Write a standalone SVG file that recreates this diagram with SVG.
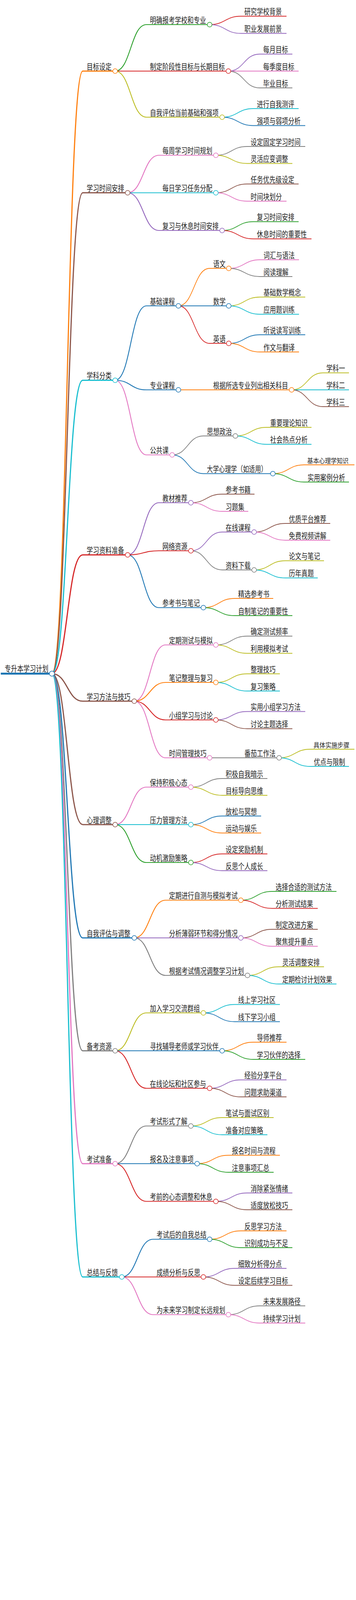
<svg xmlns="http://www.w3.org/2000/svg" width="912" height="4146" viewBox="0 0 912 4146">
<style>
.n path{fill:none}
.n circle{fill:#fff;stroke-width:1.5}
text{fill:#222;stroke:none;font-family:"Noto Sans CJK SC","Noto Sans",sans-serif;font-size:21px;}
text.edge{font-size:17px}
#connectors path{fill:none}
.d1{stroke-width:3}.d2{stroke-width:2.2}.d3{stroke-width:1.8}
</style>
<rect width="912" height="4146" fill="#fff"/>
<g id="connectors">
<g class="d1">
<path stroke="#ff7f0e" d="M133 1724.5 C172.5 1724.5 172.5 182 212 182"/>
<path stroke="#8c564b" d="M133 1724.5 C172.5 1724.5 172.5 493.5 212 493.5"/>
<path stroke="#17becf" d="M133 1724.5 C172.5 1724.5 172.5 973.5 212 973.5"/>
<path stroke="#d62728" d="M133 1724.5 C172.5 1724.5 172.5 1420.5 212 1420.5"/>
<path stroke="#8c564b" d="M133 1724.5 C172.5 1724.5 172.5 1795 212 1795"/>
<path stroke="#8c564b" d="M133 1724.5 C172.5 1724.5 172.5 2111 212 2111"/>
<path stroke="#1f77b4" d="M133 1724.5 C172.5 1724.5 172.5 2401 212 2401"/>
<path stroke="#7f7f7f" d="M133 1724.5 C172.5 1724.5 172.5 2690 212 2690"/>
<path stroke="#e377c2" d="M133 1724.5 C172.5 1724.5 172.5 2979 212 2979"/>
<path stroke="#17becf" d="M133 1724.5 C172.5 1724.5 172.5 3269 212 3269"/>
</g>
<g class="d2">
<path stroke="#2ca02c" d="M295 182 C335 182 335 63 375 63"/>
<path stroke="#d62728" d="M295 182 C335 182 335 182 375 182"/>
<path stroke="#bcbd22" d="M295 182 C335 182 335 300 375 300"/>
<path stroke="#e377c2" d="M327 493.5 C367 493.5 367 397.5 407 397.5"/>
<path stroke="#17becf" d="M327 493.5 C367 493.5 367 493.5 407 493.5"/>
<path stroke="#9467bd" d="M327 493.5 C367 493.5 367 590 407 590"/>
<path stroke="#1f77b4" d="M295 973.5 C335 973.5 335 783 375 783"/>
<path stroke="#1f77b4" d="M295 973.5 C335 973.5 335 998 375 998"/>
<path stroke="#e377c2" d="M295 973.5 C335 973.5 335 1164.5 375 1164.5"/>
<path stroke="#9467bd" d="M327 1420.5 C367 1420.5 367 1287 407 1287"/>
<path stroke="#d62728" d="M327 1420.5 C367 1420.5 367 1410 407 1410"/>
<path stroke="#1f77b4" d="M327 1420.5 C367 1420.5 367 1555.5 407 1555.5"/>
<path stroke="#e377c2" d="M344 1795 C384 1795 384 1651 424 1651"/>
<path stroke="#ff7f0e" d="M344 1795 C384 1795 384 1747 424 1747"/>
<path stroke="#d62728" d="M344 1795 C384 1795 384 1843 424 1843"/>
<path stroke="#e377c2" d="M344 1795 C384 1795 384 1940 424 1940"/>
<path stroke="#e377c2" d="M295 2111 C335 2111 335 2015 375 2015"/>
<path stroke="#17becf" d="M295 2111 C335 2111 335 2111 375 2111"/>
<path stroke="#2ca02c" d="M295 2111 C335 2111 335 2208 375 2208"/>
<path stroke="#ff7f0e" d="M344 2401 C384 2401 384 2304.5 424 2304.5"/>
<path stroke="#9467bd" d="M344 2401 C384 2401 384 2401 424 2401"/>
<path stroke="#7f7f7f" d="M344 2401 C384 2401 384 2497 424 2497"/>
<path stroke="#bcbd22" d="M295 2690 C335 2690 335 2593 375 2593"/>
<path stroke="#1f77b4" d="M295 2690 C335 2690 335 2690 375 2690"/>
<path stroke="#d62728" d="M295 2690 C335 2690 335 2786 375 2786"/>
<path stroke="#7f7f7f" d="M295 2979 C335 2979 335 2882.5 375 2882.5"/>
<path stroke="#1f77b4" d="M295 2979 C335 2979 335 2979 375 2979"/>
<path stroke="#d62728" d="M295 2979 C335 2979 335 3075.5 375 3075.5"/>
<path stroke="#1f77b4" d="M312 3269 C352 3269 352 3172.5 392 3172.5"/>
<path stroke="#d62728" d="M312 3269 C352 3269 352 3269 392 3269"/>
<path stroke="#e377c2" d="M312 3269 C352 3269 352 3365.5 392 3365.5"/>
</g>
<g class="d3">
<path stroke="#d62728" d="M537 63 C577 63 577 41.5 617 41.5"/>
<path stroke="#9467bd" d="M537 63 C577 63 577 85.5 617 85.5"/>
<path stroke="#9467bd" d="M585 182 C625 182 625 138.5 665 138.5"/>
<path stroke="#e377c2" d="M585 182 C625 182 625 182 665 182"/>
<path stroke="#7f7f7f" d="M585 182 C625 182 625 225 665 225"/>
<path stroke="#17becf" d="M569 300 C609 300 609 278 649 278"/>
<path stroke="#1f77b4" d="M569 300 C609 300 609 321.5 649 321.5"/>
<path stroke="#7f7f7f" d="M553 397.5 C593 397.5 593 375 633 375"/>
<path stroke="#bcbd22" d="M553 397.5 C593 397.5 593 418.5 633 418.5"/>
<path stroke="#8c564b" d="M553 493.5 C593 493.5 593 471 633 471"/>
<path stroke="#e377c2" d="M553 493.5 C593 493.5 593 515 633 515"/>
<path stroke="#2ca02c" d="M569 590 C609 590 609 567.5 649 567.5"/>
<path stroke="#d62728" d="M569 590 C609 590 609 611.5 649 611.5"/>
<path stroke="#ff7f0e" d="M457 783 C497 783 497 687 537 687"/>
<path stroke="#1f77b4" d="M457 783 C497 783 497 783 537 783"/>
<path stroke="#d62728" d="M457 783 C497 783 497 879 537 879"/>
<path stroke="#e377c2" d="M586 687 C626 687 626 665 666 665"/>
<path stroke="#7f7f7f" d="M586 687 C626 687 626 708 666 708"/>
<path stroke="#bcbd22" d="M586 783 C626 783 626 760.5 666 760.5"/>
<path stroke="#17becf" d="M586 783 C626 783 626 804.5 666 804.5"/>
<path stroke="#1f77b4" d="M586 879 C626 879 626 857 666 857"/>
<path stroke="#ff7f0e" d="M586 879 C626 879 626 901 666 901"/>
<path stroke="#ff7f0e" d="M457 998 C497 998 497 998 537 998"/>
<path stroke="#bcbd22" d="M747 998 C787 998 787 954.5 827 954.5"/>
<path stroke="#17becf" d="M747 998 C787 998 787 998 827 998"/>
<path stroke="#8c564b" d="M747 998 C787 998 787 1041 827 1041"/>
<path stroke="#7f7f7f" d="M441 1164.5 C481 1164.5 481 1116 521 1116"/>
<path stroke="#1f77b4" d="M441 1164.5 C481 1164.5 481 1212.5 521 1212.5"/>
<path stroke="#bcbd22" d="M603 1116 C643 1116 643 1094 683 1094"/>
<path stroke="#17becf" d="M603 1116 C643 1116 643 1137.5 683 1137.5"/>
<path stroke="#ff7f0e" d="M699 1212.5 C739 1212.5 739 1190 779 1190"/>
<path stroke="#2ca02c" d="M699 1212.5 C739 1212.5 739 1234 779 1234"/>
<path stroke="#8c564b" d="M489 1287 C529 1287 529 1265 569 1265"/>
<path stroke="#e377c2" d="M489 1287 C529 1287 529 1309 569 1309"/>
<path stroke="#9467bd" d="M489 1410 C529 1410 529 1362 569 1362"/>
<path stroke="#7f7f7f" d="M489 1410 C529 1410 529 1459 569 1459"/>
<path stroke="#8c564b" d="M651 1362 C691 1362 691 1340 731 1340"/>
<path stroke="#e377c2" d="M651 1362 C691 1362 691 1383 731 1383"/>
<path stroke="#bcbd22" d="M651 1459 C691 1459 691 1435.5 731 1435.5"/>
<path stroke="#17becf" d="M651 1459 C691 1459 691 1479.5 731 1479.5"/>
<path stroke="#ff7f0e" d="M521 1555.5 C561 1555.5 561 1532 601 1532"/>
<path stroke="#2ca02c" d="M521 1555.5 C561 1555.5 561 1576 601 1576"/>
<path stroke="#7f7f7f" d="M553 1651 C593 1651 593 1628.5 633 1628.5"/>
<path stroke="#bcbd22" d="M553 1651 C593 1651 593 1672.5 633 1672.5"/>
<path stroke="#bcbd22" d="M553 1747 C593 1747 593 1725 633 1725"/>
<path stroke="#17becf" d="M553 1747 C593 1747 593 1769 633 1769"/>
<path stroke="#9467bd" d="M553 1843 C593 1843 593 1821.5 633 1821.5"/>
<path stroke="#8c564b" d="M553 1843 C593 1843 593 1865.5 633 1865.5"/>
<path stroke="#7f7f7f" d="M537 1940 C577 1940 577 1940 617 1940"/>
<path stroke="#bcbd22" d="M715 1940 C755 1940 755 1918 795 1918"/>
<path stroke="#17becf" d="M715 1940 C755 1940 755 1962 795 1962"/>
<path stroke="#7f7f7f" d="M489 2015 C529 2015 529 1993 569 1993"/>
<path stroke="#bcbd22" d="M489 2015 C529 2015 529 2036 569 2036"/>
<path stroke="#1f77b4" d="M489 2111 C529 2111 529 2089 569 2089"/>
<path stroke="#ff7f0e" d="M489 2111 C529 2111 529 2132.5 569 2132.5"/>
<path stroke="#d62728" d="M489 2208 C529 2208 529 2186 569 2186"/>
<path stroke="#9467bd" d="M489 2208 C529 2208 529 2229 569 2229"/>
<path stroke="#2ca02c" d="M617 2304.5 C657 2304.5 657 2282 697 2282"/>
<path stroke="#d62728" d="M617 2304.5 C657 2304.5 657 2325.5 697 2325.5"/>
<path stroke="#8c564b" d="M617 2401 C657 2401 657 2379 697 2379"/>
<path stroke="#e377c2" d="M617 2401 C657 2401 657 2422.5 697 2422.5"/>
<path stroke="#bcbd22" d="M634 2497 C674 2497 674 2475 714 2475"/>
<path stroke="#17becf" d="M634 2497 C674 2497 674 2519 714 2519"/>
<path stroke="#17becf" d="M521 2593 C561 2593 561 2571.5 601 2571.5"/>
<path stroke="#1f77b4" d="M521 2593 C561 2593 561 2615.5 601 2615.5"/>
<path stroke="#ff7f0e" d="M569 2690 C609 2690 609 2668 649 2668"/>
<path stroke="#2ca02c" d="M569 2690 C609 2690 609 2712 649 2712"/>
<path stroke="#9467bd" d="M537 2786 C577 2786 577 2764.5 617 2764.5"/>
<path stroke="#8c564b" d="M537 2786 C577 2786 577 2808 617 2808"/>
<path stroke="#bcbd22" d="M489 2882.5 C529 2882.5 529 2861 569 2861"/>
<path stroke="#17becf" d="M489 2882.5 C529 2882.5 529 2905 569 2905"/>
<path stroke="#ff7f0e" d="M505 2979 C545 2979 545 2957.5 585 2957.5"/>
<path stroke="#2ca02c" d="M505 2979 C545 2979 545 3001 585 3001"/>
<path stroke="#9467bd" d="M553 3075.5 C593 3075.5 593 3054 633 3054"/>
<path stroke="#8c564b" d="M553 3075.5 C593 3075.5 593 3097 633 3097"/>
<path stroke="#ff7f0e" d="M537 3172.5 C577 3172.5 577 3151 617 3151"/>
<path stroke="#2ca02c" d="M537 3172.5 C577 3172.5 577 3194 617 3194"/>
<path stroke="#9467bd" d="M521 3269 C561 3269 561 3247 601 3247"/>
<path stroke="#8c564b" d="M521 3269 C561 3269 561 3290.5 601 3290.5"/>
<path stroke="#7f7f7f" d="M585 3365.5 C625 3365.5 625 3343 665 3343"/>
<path stroke="#e377c2" d="M585 3365.5 C625 3365.5 625 3387 665 3387"/>
</g>
</g>

<g id="root" class="n" stroke="#1f77b4" stroke-width="5"><path d="M2 1724.5 H133"/><circle cx="133" cy="1724.5" r="6.5"/><text x="12" y="1719" textLength="112" lengthAdjust="spacingAndGlyphs">专升本学习计划</text></g>

<g id="n1" class="n" stroke="#ff7f0e" stroke-width="3"><path d="M212 182 H295"/><circle cx="295" cy="182" r="6"/><text x="222" y="177.5" textLength="64" lengthAdjust="spacingAndGlyphs">目标设定</text></g>
<g id="n1-1" class="n" stroke="#2ca02c" stroke-width="2.2"><path d="M375 63 H537"/><circle cx="537" cy="63" r="6"/><text x="384" y="58.5" textLength="144" lengthAdjust="spacingAndGlyphs">明确报考学校和专业</text></g>
<g id="n1-1-1" class="n" stroke="#d62728" stroke-width="1.8"><path d="M617 41.5 H734"/><text x="626" y="37" textLength="96" lengthAdjust="spacingAndGlyphs">研究学校背景</text></g>
<g id="n1-1-2" class="n" stroke="#9467bd" stroke-width="1.8"><path d="M617 85.5 H734"/><text x="626" y="81" textLength="96" lengthAdjust="spacingAndGlyphs">职业发展前景</text></g>
<g id="n1-2" class="n" stroke="#d62728" stroke-width="2.2"><path d="M375 182 H585"/><circle cx="585" cy="182" r="6"/><text x="384" y="177.5" textLength="192" lengthAdjust="spacingAndGlyphs">制定阶段性目标与长期目标</text></g>
<g id="n1-2-1" class="n" stroke="#9467bd" stroke-width="1.8"><path d="M665 138.5 H749"/><text x="674" y="134" textLength="64" lengthAdjust="spacingAndGlyphs">每月目标</text></g>
<g id="n1-2-2" class="n" stroke="#e377c2" stroke-width="1.8"><path d="M665 182 H765"/><text x="674" y="177.5" textLength="80" lengthAdjust="spacingAndGlyphs">每季度目标</text></g>
<g id="n1-2-3" class="n" stroke="#7f7f7f" stroke-width="1.8"><path d="M665 225 H749"/><text x="674" y="220.5" textLength="64" lengthAdjust="spacingAndGlyphs">毕业目标</text></g>
<g id="n1-3" class="n" stroke="#bcbd22" stroke-width="2.2"><path d="M375 300 H569"/><circle cx="569" cy="300" r="6"/><text x="384" y="295.5" textLength="176" lengthAdjust="spacingAndGlyphs">自我评估当前基础和强项</text></g>
<g id="n1-3-1" class="n" stroke="#17becf" stroke-width="1.8"><path d="M649 278 H765"/><text x="658" y="273.5" textLength="96" lengthAdjust="spacingAndGlyphs">进行自我测评</text></g>
<g id="n1-3-2" class="n" stroke="#1f77b4" stroke-width="1.8"><path d="M649 321.5 H782"/><text x="658" y="317" textLength="112" lengthAdjust="spacingAndGlyphs">强项与弱项分析</text></g>

<g id="n2" class="n" stroke="#8c564b" stroke-width="3"><path d="M212 493.5 H327"/><circle cx="327" cy="493.5" r="6"/><text x="222" y="489" textLength="96" lengthAdjust="spacingAndGlyphs">学习时间安排</text></g>
<g id="n2-1" class="n" stroke="#e377c2" stroke-width="2.2"><path d="M407 397.5 H553"/><circle cx="553" cy="397.5" r="6"/><text x="416" y="393" textLength="128" lengthAdjust="spacingAndGlyphs">每周学习时间规划</text></g>
<g id="n2-1-1" class="n" stroke="#7f7f7f" stroke-width="1.8"><path d="M633 375 H782"/><text x="642" y="370.5" textLength="128" lengthAdjust="spacingAndGlyphs">设定固定学习时间</text></g>
<g id="n2-1-2" class="n" stroke="#bcbd22" stroke-width="1.8"><path d="M633 418.5 H749"/><text x="642" y="414" textLength="96" lengthAdjust="spacingAndGlyphs">灵活应变调整</text></g>
<g id="n2-2" class="n" stroke="#17becf" stroke-width="2.2"><path d="M407 493.5 H553"/><circle cx="553" cy="493.5" r="6"/><text x="416" y="489" textLength="128" lengthAdjust="spacingAndGlyphs">每日学习任务分配</text></g>
<g id="n2-2-1" class="n" stroke="#8c564b" stroke-width="1.8"><path d="M633 471 H765"/><text x="642" y="466.5" textLength="112" lengthAdjust="spacingAndGlyphs">任务优先级设定</text></g>
<g id="n2-2-2" class="n" stroke="#e377c2" stroke-width="1.8"><path d="M633 515 H734"/><text x="642" y="510.5" textLength="80" lengthAdjust="spacingAndGlyphs">时间块划分</text></g>
<g id="n2-3" class="n" stroke="#9467bd" stroke-width="2.2"><path d="M407 590 H569"/><circle cx="569" cy="590" r="6"/><text x="416" y="585.5" textLength="144" lengthAdjust="spacingAndGlyphs">复习与休息时间安排</text></g>
<g id="n2-3-1" class="n" stroke="#2ca02c" stroke-width="1.8"><path d="M649 567.5 H765"/><text x="658" y="563" textLength="96" lengthAdjust="spacingAndGlyphs">复习时间安排</text></g>
<g id="n2-3-2" class="n" stroke="#d62728" stroke-width="1.8"><path d="M649 611.5 H798"/><text x="658" y="607" textLength="128" lengthAdjust="spacingAndGlyphs">休息时间的重要性</text></g>

<g id="n3" class="n" stroke="#17becf" stroke-width="3"><path d="M212 973.5 H295"/><circle cx="295" cy="973.5" r="6"/><text x="222" y="969" textLength="64" lengthAdjust="spacingAndGlyphs">学科分类</text></g>
<g id="n3-1" class="n" stroke="#1f77b4" stroke-width="2.2"><path d="M375 783 H457"/><circle cx="457" cy="783" r="6"/><text x="384" y="778.5" textLength="64" lengthAdjust="spacingAndGlyphs">基础课程</text></g>
<g id="n3-1-1" class="n" stroke="#ff7f0e" stroke-width="1.8"><path d="M537 687 H586"/><circle cx="586" cy="687" r="6"/><text x="546" y="682.5" textLength="32" lengthAdjust="spacingAndGlyphs">语文</text></g>
<g id="n3-1-1-1" class="n" stroke="#e377c2" stroke-width="1.8"><path d="M666 665 H766"/><text x="675" y="660.5" textLength="80" lengthAdjust="spacingAndGlyphs">词汇与语法</text></g>
<g id="n3-1-1-2" class="n" stroke="#7f7f7f" stroke-width="1.8"><path d="M666 708 H749"/><text x="675" y="703.5" textLength="64" lengthAdjust="spacingAndGlyphs">阅读理解</text></g>
<g id="n3-1-2" class="n" stroke="#1f77b4" stroke-width="1.8"><path d="M537 783 H586"/><circle cx="586" cy="783" r="6"/><text x="546" y="778.5" textLength="32" lengthAdjust="spacingAndGlyphs">数学</text></g>
<g id="n3-1-2-1" class="n" stroke="#bcbd22" stroke-width="1.8"><path d="M666 760.5 H782"/><text x="675" y="756" textLength="96" lengthAdjust="spacingAndGlyphs">基础数学概念</text></g>
<g id="n3-1-2-2" class="n" stroke="#17becf" stroke-width="1.8"><path d="M666 804.5 H766"/><text x="675" y="800" textLength="80" lengthAdjust="spacingAndGlyphs">应用题训练</text></g>
<g id="n3-1-3" class="n" stroke="#d62728" stroke-width="1.8"><path d="M537 879 H586"/><circle cx="586" cy="879" r="6"/><text x="546" y="874.5" textLength="32" lengthAdjust="spacingAndGlyphs">英语</text></g>
<g id="n3-1-3-1" class="n" stroke="#1f77b4" stroke-width="1.8"><path d="M666 857 H782"/><text x="675" y="852.5" textLength="96" lengthAdjust="spacingAndGlyphs">听说读写训练</text></g>
<g id="n3-1-3-2" class="n" stroke="#ff7f0e" stroke-width="1.8"><path d="M666 901 H766"/><text x="675" y="896.5" textLength="80" lengthAdjust="spacingAndGlyphs">作文与翻译</text></g>
<g id="n3-2" class="n" stroke="#1f77b4" stroke-width="2.2"><path d="M375 998 H457"/><circle cx="457" cy="998" r="6"/><text x="384" y="993.5" textLength="64" lengthAdjust="spacingAndGlyphs">专业课程</text></g>
<g id="n3-2-1" class="n" stroke="#ff7f0e" stroke-width="1.8"><path d="M537 998 H747"/><circle cx="747" cy="998" r="6"/><text x="546" y="993.5" textLength="192" lengthAdjust="spacingAndGlyphs">根据所选专业列出相关科目</text></g>
<g id="n3-2-1-1" class="n" stroke="#bcbd22" stroke-width="1.8"><path d="M827 954.5 H894"/><text x="836" y="950" textLength="48" lengthAdjust="spacingAndGlyphs">学科一</text></g>
<g id="n3-2-1-2" class="n" stroke="#17becf" stroke-width="1.8"><path d="M827 998 H894"/><text x="836" y="993.5" textLength="48" lengthAdjust="spacingAndGlyphs">学科二</text></g>
<g id="n3-2-1-3" class="n" stroke="#8c564b" stroke-width="1.8"><path d="M827 1041 H894"/><text x="836" y="1036.5" textLength="48" lengthAdjust="spacingAndGlyphs">学科三</text></g>
<g id="n3-3" class="n" stroke="#e377c2" stroke-width="2.2"><path d="M375 1164.5 H441"/><circle cx="441" cy="1164.5" r="6"/><text x="384" y="1160" textLength="48" lengthAdjust="spacingAndGlyphs">公共课</text></g>
<g id="n3-3-1" class="n" stroke="#7f7f7f" stroke-width="1.8"><path d="M521 1116 H603"/><circle cx="603" cy="1116" r="6"/><text x="530" y="1111.5" textLength="64" lengthAdjust="spacingAndGlyphs">思想政治</text></g>
<g id="n3-3-1-1" class="n" stroke="#bcbd22" stroke-width="1.8"><path d="M683 1094 H798"/><text x="692" y="1089.5" textLength="96" lengthAdjust="spacingAndGlyphs">重要理论知识</text></g>
<g id="n3-3-1-2" class="n" stroke="#17becf" stroke-width="1.8"><path d="M683 1137.5 H798"/><text x="692" y="1133" textLength="96" lengthAdjust="spacingAndGlyphs">社会热点分析</text></g>
<g id="n3-3-2" class="n" stroke="#1f77b4" stroke-width="1.8"><path d="M521 1212.5 H699"/><circle cx="699" cy="1212.5" r="6"/><text x="530" y="1208" textLength="154" lengthAdjust="spacingAndGlyphs">大学心理学（如适用）</text></g>
<g id="n3-3-2-1" class="n" stroke="#ff7f0e" stroke-width="1.8"><path d="M779 1190 H908"/><text class="edge" x="787" y="1185.5" textLength="106" lengthAdjust="spacingAndGlyphs">基本心理学知识</text></g>
<g id="n3-3-2-2" class="n" stroke="#2ca02c" stroke-width="1.8"><path d="M779 1234 H894"/><text x="788" y="1229.5" textLength="96" lengthAdjust="spacingAndGlyphs">实用案例分析</text></g>

<g id="n4" class="n" stroke="#d62728" stroke-width="3"><path d="M212 1420.5 H327"/><circle cx="327" cy="1420.5" r="6"/><text x="222" y="1416" textLength="96" lengthAdjust="spacingAndGlyphs">学习资料准备</text></g>
<g id="n4-1" class="n" stroke="#9467bd" stroke-width="2.2"><path d="M407 1287 H489"/><circle cx="489" cy="1287" r="6"/><text x="416" y="1282.5" textLength="64" lengthAdjust="spacingAndGlyphs">教材推荐</text></g>
<g id="n4-1-1" class="n" stroke="#8c564b" stroke-width="1.8"><path d="M569 1265 H652"/><text x="578" y="1260.5" textLength="64" lengthAdjust="spacingAndGlyphs">参考书籍</text></g>
<g id="n4-1-2" class="n" stroke="#e377c2" stroke-width="1.8"><path d="M569 1309 H636"/><text x="578" y="1304.5" textLength="48" lengthAdjust="spacingAndGlyphs">习题集</text></g>
<g id="n4-2" class="n" stroke="#d62728" stroke-width="2.2"><path d="M407 1410 H489"/><circle cx="489" cy="1410" r="6"/><text x="416" y="1405.5" textLength="64" lengthAdjust="spacingAndGlyphs">网络资源</text></g>
<g id="n4-2-1" class="n" stroke="#9467bd" stroke-width="1.8"><path d="M569 1362 H651"/><circle cx="651" cy="1362" r="6"/><text x="578" y="1357.5" textLength="64" lengthAdjust="spacingAndGlyphs">在线课程</text></g>
<g id="n4-2-1-1" class="n" stroke="#8c564b" stroke-width="1.8"><path d="M731 1340 H846"/><text x="740" y="1335.5" textLength="96" lengthAdjust="spacingAndGlyphs">优质平台推荐</text></g>
<g id="n4-2-1-2" class="n" stroke="#e377c2" stroke-width="1.8"><path d="M731 1383 H846"/><text x="740" y="1378.5" textLength="96" lengthAdjust="spacingAndGlyphs">免费视频讲解</text></g>
<g id="n4-2-2" class="n" stroke="#7f7f7f" stroke-width="1.8"><path d="M569 1459 H651"/><circle cx="651" cy="1459" r="6"/><text x="578" y="1454.5" textLength="64" lengthAdjust="spacingAndGlyphs">资料下载</text></g>
<g id="n4-2-2-1" class="n" stroke="#bcbd22" stroke-width="1.8"><path d="M731 1435.5 H830"/><text x="740" y="1431" textLength="80" lengthAdjust="spacingAndGlyphs">论文与笔记</text></g>
<g id="n4-2-2-2" class="n" stroke="#17becf" stroke-width="1.8"><path d="M731 1479.5 H814"/><text x="740" y="1475" textLength="64" lengthAdjust="spacingAndGlyphs">历年真题</text></g>
<g id="n4-3" class="n" stroke="#1f77b4" stroke-width="2.2"><path d="M407 1555.5 H521"/><circle cx="521" cy="1555.5" r="6"/><text x="416" y="1551" textLength="96" lengthAdjust="spacingAndGlyphs">参考书与笔记</text></g>
<g id="n4-3-1" class="n" stroke="#ff7f0e" stroke-width="1.8"><path d="M601 1532 H700"/><text x="610" y="1527.5" textLength="80" lengthAdjust="spacingAndGlyphs">精选参考书</text></g>
<g id="n4-3-2" class="n" stroke="#2ca02c" stroke-width="1.8"><path d="M601 1576 H749"/><text x="610" y="1571.5" textLength="128" lengthAdjust="spacingAndGlyphs">自制笔记的重要性</text></g>

<g id="n5" class="n" stroke="#8c564b" stroke-width="3"><path d="M212 1795 H344"/><circle cx="344" cy="1795" r="6"/><text x="222" y="1790.5" textLength="112" lengthAdjust="spacingAndGlyphs">学习方法与技巧</text></g>
<g id="n5-1" class="n" stroke="#e377c2" stroke-width="2.2"><path d="M424 1651 H553"/><circle cx="553" cy="1651" r="6"/><text x="433" y="1646.5" textLength="112" lengthAdjust="spacingAndGlyphs">定期测试与模拟</text></g>
<g id="n5-1-1" class="n" stroke="#7f7f7f" stroke-width="1.8"><path d="M633 1628.5 H749"/><text x="642" y="1624" textLength="96" lengthAdjust="spacingAndGlyphs">确定测试频率</text></g>
<g id="n5-1-2" class="n" stroke="#bcbd22" stroke-width="1.8"><path d="M633 1672.5 H749"/><text x="642" y="1668" textLength="96" lengthAdjust="spacingAndGlyphs">利用模拟考试</text></g>
<g id="n5-2" class="n" stroke="#ff7f0e" stroke-width="2.2"><path d="M424 1747 H553"/><circle cx="553" cy="1747" r="6"/><text x="433" y="1742.5" textLength="112" lengthAdjust="spacingAndGlyphs">笔记整理与复习</text></g>
<g id="n5-2-1" class="n" stroke="#bcbd22" stroke-width="1.8"><path d="M633 1725 H717"/><text x="642" y="1720.5" textLength="64" lengthAdjust="spacingAndGlyphs">整理技巧</text></g>
<g id="n5-2-2" class="n" stroke="#17becf" stroke-width="1.8"><path d="M633 1769 H717"/><text x="642" y="1764.5" textLength="64" lengthAdjust="spacingAndGlyphs">复习策略</text></g>
<g id="n5-3" class="n" stroke="#d62728" stroke-width="2.2"><path d="M424 1843 H553"/><circle cx="553" cy="1843" r="6"/><text x="433" y="1838.5" textLength="112" lengthAdjust="spacingAndGlyphs">小组学习与讨论</text></g>
<g id="n5-3-1" class="n" stroke="#9467bd" stroke-width="1.8"><path d="M633 1821.5 H782"/><text x="642" y="1817" textLength="128" lengthAdjust="spacingAndGlyphs">实用小组学习方法</text></g>
<g id="n5-3-2" class="n" stroke="#8c564b" stroke-width="1.8"><path d="M633 1865.5 H749"/><text x="642" y="1861" textLength="96" lengthAdjust="spacingAndGlyphs">讨论主题选择</text></g>
<g id="n5-4" class="n" stroke="#e377c2" stroke-width="2.2"><path d="M424 1940 H537"/><circle cx="537" cy="1940" r="6"/><text x="433" y="1935.5" textLength="96" lengthAdjust="spacingAndGlyphs">时间管理技巧</text></g>
<g id="n5-4-1" class="n" stroke="#7f7f7f" stroke-width="1.8"><path d="M617 1940 H715"/><circle cx="715" cy="1940" r="6"/><text x="626" y="1935.5" textLength="80" lengthAdjust="spacingAndGlyphs">番茄工作法</text></g>
<g id="n5-4-1-1" class="n" stroke="#bcbd22" stroke-width="1.8"><path d="M795 1918 H908"/><text class="edge" x="803" y="1913.5" textLength="92" lengthAdjust="spacingAndGlyphs">具体实施步骤</text></g>
<g id="n5-4-1-2" class="n" stroke="#17becf" stroke-width="1.8"><path d="M795 1962 H894"/><text x="804" y="1957.5" textLength="80" lengthAdjust="spacingAndGlyphs">优点与限制</text></g>

<g id="n6" class="n" stroke="#8c564b" stroke-width="3"><path d="M212 2111 H295"/><circle cx="295" cy="2111" r="6"/><text x="222" y="2106.5" textLength="64" lengthAdjust="spacingAndGlyphs">心理调整</text></g>
<g id="n6-1" class="n" stroke="#e377c2" stroke-width="2.2"><path d="M375 2015 H489"/><circle cx="489" cy="2015" r="6"/><text x="384" y="2010.5" textLength="96" lengthAdjust="spacingAndGlyphs">保持积极心态</text></g>
<g id="n6-1-1" class="n" stroke="#7f7f7f" stroke-width="1.8"><path d="M569 1993 H685"/><text x="578" y="1988.5" textLength="96" lengthAdjust="spacingAndGlyphs">积极自我暗示</text></g>
<g id="n6-1-2" class="n" stroke="#bcbd22" stroke-width="1.8"><path d="M569 2036 H685"/><text x="578" y="2031.5" textLength="96" lengthAdjust="spacingAndGlyphs">目标导向思维</text></g>
<g id="n6-2" class="n" stroke="#17becf" stroke-width="2.2"><path d="M375 2111 H489"/><circle cx="489" cy="2111" r="6"/><text x="384" y="2106.5" textLength="96" lengthAdjust="spacingAndGlyphs">压力管理方法</text></g>
<g id="n6-2-1" class="n" stroke="#1f77b4" stroke-width="1.8"><path d="M569 2089 H669"/><text x="578" y="2084.5" textLength="80" lengthAdjust="spacingAndGlyphs">放松与冥想</text></g>
<g id="n6-2-2" class="n" stroke="#ff7f0e" stroke-width="1.8"><path d="M569 2132.5 H669"/><text x="578" y="2128" textLength="80" lengthAdjust="spacingAndGlyphs">运动与娱乐</text></g>
<g id="n6-3" class="n" stroke="#2ca02c" stroke-width="2.2"><path d="M375 2208 H489"/><circle cx="489" cy="2208" r="6"/><text x="384" y="2203.5" textLength="96" lengthAdjust="spacingAndGlyphs">动机激励策略</text></g>
<g id="n6-3-1" class="n" stroke="#d62728" stroke-width="1.8"><path d="M569 2186 H685"/><text x="578" y="2181.5" textLength="96" lengthAdjust="spacingAndGlyphs">设定奖励机制</text></g>
<g id="n6-3-2" class="n" stroke="#9467bd" stroke-width="1.8"><path d="M569 2229 H685"/><text x="578" y="2224.5" textLength="96" lengthAdjust="spacingAndGlyphs">反思个人成长</text></g>

<g id="n7" class="n" stroke="#1f77b4" stroke-width="3"><path d="M212 2401 H344"/><circle cx="344" cy="2401" r="6"/><text x="222" y="2396.5" textLength="112" lengthAdjust="spacingAndGlyphs">自我评估与调整</text></g>
<g id="n7-1" class="n" stroke="#ff7f0e" stroke-width="2.2"><path d="M424 2304.5 H617"/><circle cx="617" cy="2304.5" r="6"/><text x="433" y="2300" textLength="176" lengthAdjust="spacingAndGlyphs">定期进行自测与模拟考试</text></g>
<g id="n7-1-1" class="n" stroke="#2ca02c" stroke-width="1.8"><path d="M697 2282 H862"/><text x="706" y="2277.5" textLength="144" lengthAdjust="spacingAndGlyphs">选择合适的测试方法</text></g>
<g id="n7-1-2" class="n" stroke="#d62728" stroke-width="1.8"><path d="M697 2325.5 H814"/><text x="706" y="2321" textLength="96" lengthAdjust="spacingAndGlyphs">分析测试结果</text></g>
<g id="n7-2" class="n" stroke="#9467bd" stroke-width="2.2"><path d="M424 2401 H617"/><circle cx="617" cy="2401" r="6"/><text x="433" y="2396.5" textLength="176" lengthAdjust="spacingAndGlyphs">分析薄弱环节和得分情况</text></g>
<g id="n7-2-1" class="n" stroke="#8c564b" stroke-width="1.8"><path d="M697 2379 H814"/><text x="706" y="2374.5" textLength="96" lengthAdjust="spacingAndGlyphs">制定改进方案</text></g>
<g id="n7-2-2" class="n" stroke="#e377c2" stroke-width="1.8"><path d="M697 2422.5 H814"/><text x="706" y="2418" textLength="96" lengthAdjust="spacingAndGlyphs">聚焦提升重点</text></g>
<g id="n7-3" class="n" stroke="#7f7f7f" stroke-width="2.2"><path d="M424 2497 H634"/><circle cx="634" cy="2497" r="6"/><text x="433" y="2492.5" textLength="192" lengthAdjust="spacingAndGlyphs">根据考试情况调整学习计划</text></g>
<g id="n7-3-1" class="n" stroke="#bcbd22" stroke-width="1.8"><path d="M714 2475 H830"/><text x="723" y="2470.5" textLength="96" lengthAdjust="spacingAndGlyphs">灵活调整安排</text></g>
<g id="n7-3-2" class="n" stroke="#17becf" stroke-width="1.8"><path d="M714 2519 H862"/><text x="723" y="2514.5" textLength="128" lengthAdjust="spacingAndGlyphs">定期检讨计划效果</text></g>

<g id="n8" class="n" stroke="#7f7f7f" stroke-width="3"><path d="M212 2690 H295"/><circle cx="295" cy="2690" r="6"/><text x="222" y="2685.5" textLength="64" lengthAdjust="spacingAndGlyphs">备考资源</text></g>
<g id="n8-1" class="n" stroke="#bcbd22" stroke-width="2.2"><path d="M375 2593 H521"/><circle cx="521" cy="2593" r="6"/><text x="384" y="2588.5" textLength="128" lengthAdjust="spacingAndGlyphs">加入学习交流群组</text></g>
<g id="n8-1-1" class="n" stroke="#17becf" stroke-width="1.8"><path d="M601 2571.5 H717"/><text x="610" y="2567" textLength="96" lengthAdjust="spacingAndGlyphs">线上学习社区</text></g>
<g id="n8-1-2" class="n" stroke="#1f77b4" stroke-width="1.8"><path d="M601 2615.5 H717"/><text x="610" y="2611" textLength="96" lengthAdjust="spacingAndGlyphs">线下学习小组</text></g>
<g id="n8-2" class="n" stroke="#1f77b4" stroke-width="2.2"><path d="M375 2690 H569"/><circle cx="569" cy="2690" r="6"/><text x="384" y="2685.5" textLength="176" lengthAdjust="spacingAndGlyphs">寻找辅导老师或学习伙伴</text></g>
<g id="n8-2-1" class="n" stroke="#ff7f0e" stroke-width="1.8"><path d="M649 2668 H734"/><text x="658" y="2663.5" textLength="64" lengthAdjust="spacingAndGlyphs">导师推荐</text></g>
<g id="n8-2-2" class="n" stroke="#2ca02c" stroke-width="1.8"><path d="M649 2712 H782"/><text x="658" y="2707.5" textLength="112" lengthAdjust="spacingAndGlyphs">学习伙伴的选择</text></g>
<g id="n8-3" class="n" stroke="#d62728" stroke-width="2.2"><path d="M375 2786 H537"/><circle cx="537" cy="2786" r="6"/><text x="384" y="2781.5" textLength="144" lengthAdjust="spacingAndGlyphs">在线论坛和社区参与</text></g>
<g id="n8-3-1" class="n" stroke="#9467bd" stroke-width="1.8"><path d="M617 2764.5 H734"/><text x="626" y="2760" textLength="96" lengthAdjust="spacingAndGlyphs">经验分享平台</text></g>
<g id="n8-3-2" class="n" stroke="#8c564b" stroke-width="1.8"><path d="M617 2808 H734"/><text x="626" y="2803.5" textLength="96" lengthAdjust="spacingAndGlyphs">问题求助渠道</text></g>

<g id="n9" class="n" stroke="#e377c2" stroke-width="3"><path d="M212 2979 H295"/><circle cx="295" cy="2979" r="6"/><text x="222" y="2974.5" textLength="64" lengthAdjust="spacingAndGlyphs">考试准备</text></g>
<g id="n9-1" class="n" stroke="#7f7f7f" stroke-width="2.2"><path d="M375 2882.5 H489"/><circle cx="489" cy="2882.5" r="6"/><text x="384" y="2878" textLength="96" lengthAdjust="spacingAndGlyphs">考试形式了解</text></g>
<g id="n9-1-1" class="n" stroke="#bcbd22" stroke-width="1.8"><path d="M569 2861 H701"/><text x="578" y="2856.5" textLength="112" lengthAdjust="spacingAndGlyphs">笔试与面试区别</text></g>
<g id="n9-1-2" class="n" stroke="#17becf" stroke-width="1.8"><path d="M569 2905 H685"/><text x="578" y="2900.5" textLength="96" lengthAdjust="spacingAndGlyphs">准备对应策略</text></g>
<g id="n9-2" class="n" stroke="#1f77b4" stroke-width="2.2"><path d="M375 2979 H505"/><circle cx="505" cy="2979" r="6"/><text x="384" y="2974.5" textLength="112" lengthAdjust="spacingAndGlyphs">报名及注意事项</text></g>
<g id="n9-2-1" class="n" stroke="#ff7f0e" stroke-width="1.8"><path d="M585 2957.5 H717"/><text x="594" y="2953" textLength="112" lengthAdjust="spacingAndGlyphs">报名时间与流程</text></g>
<g id="n9-2-2" class="n" stroke="#2ca02c" stroke-width="1.8"><path d="M585 3001 H701"/><text x="594" y="2996.5" textLength="96" lengthAdjust="spacingAndGlyphs">注意事项汇总</text></g>
<g id="n9-3" class="n" stroke="#d62728" stroke-width="2.2"><path d="M375 3075.5 H553"/><circle cx="553" cy="3075.5" r="6"/><text x="384" y="3071" textLength="160" lengthAdjust="spacingAndGlyphs">考前的心态调整和休息</text></g>
<g id="n9-3-1" class="n" stroke="#9467bd" stroke-width="1.8"><path d="M633 3054 H749"/><text x="642" y="3049.5" textLength="96" lengthAdjust="spacingAndGlyphs">消除紧张情绪</text></g>
<g id="n9-3-2" class="n" stroke="#8c564b" stroke-width="1.8"><path d="M633 3097 H749"/><text x="642" y="3092.5" textLength="96" lengthAdjust="spacingAndGlyphs">适度放松技巧</text></g>

<g id="n10" class="n" stroke="#17becf" stroke-width="3"><path d="M212 3269 H312"/><circle cx="312" cy="3269" r="6"/><text x="222" y="3264.5" textLength="80" lengthAdjust="spacingAndGlyphs">总结与反馈</text></g>
<g id="n10-1" class="n" stroke="#1f77b4" stroke-width="2.2"><path d="M392 3172.5 H537"/><circle cx="537" cy="3172.5" r="6"/><text x="401" y="3168" textLength="128" lengthAdjust="spacingAndGlyphs">考试后的自我总结</text></g>
<g id="n10-1-1" class="n" stroke="#ff7f0e" stroke-width="1.8"><path d="M617 3151 H734"/><text x="626" y="3146.5" textLength="96" lengthAdjust="spacingAndGlyphs">反思学习方法</text></g>
<g id="n10-1-2" class="n" stroke="#2ca02c" stroke-width="1.8"><path d="M617 3194 H749"/><text x="626" y="3189.5" textLength="112" lengthAdjust="spacingAndGlyphs">识别成功与不足</text></g>
<g id="n10-2" class="n" stroke="#d62728" stroke-width="2.2"><path d="M392 3269 H521"/><circle cx="521" cy="3269" r="6"/><text x="401" y="3264.5" textLength="112" lengthAdjust="spacingAndGlyphs">成绩分析与反思</text></g>
<g id="n10-2-1" class="n" stroke="#9467bd" stroke-width="1.8"><path d="M601 3247 H734"/><text x="610" y="3242.5" textLength="112" lengthAdjust="spacingAndGlyphs">细致分析得分点</text></g>
<g id="n10-2-2" class="n" stroke="#8c564b" stroke-width="1.8"><path d="M601 3290.5 H749"/><text x="610" y="3286" textLength="128" lengthAdjust="spacingAndGlyphs">设定后续学习目标</text></g>
<g id="n10-3" class="n" stroke="#e377c2" stroke-width="2.2"><path d="M392 3365.5 H585"/><circle cx="585" cy="3365.5" r="6"/><text x="401" y="3361" textLength="176" lengthAdjust="spacingAndGlyphs">为未来学习制定长远规划</text></g>
<g id="n10-3-1" class="n" stroke="#7f7f7f" stroke-width="1.8"><path d="M665 3343 H782"/><text x="674" y="3338.5" textLength="96" lengthAdjust="spacingAndGlyphs">未来发展路径</text></g>
<g id="n10-3-2" class="n" stroke="#e377c2" stroke-width="1.8"><path d="M665 3387 H782"/><text x="674" y="3382.5" textLength="96" lengthAdjust="spacingAndGlyphs">持续学习计划</text></g>
</svg>
